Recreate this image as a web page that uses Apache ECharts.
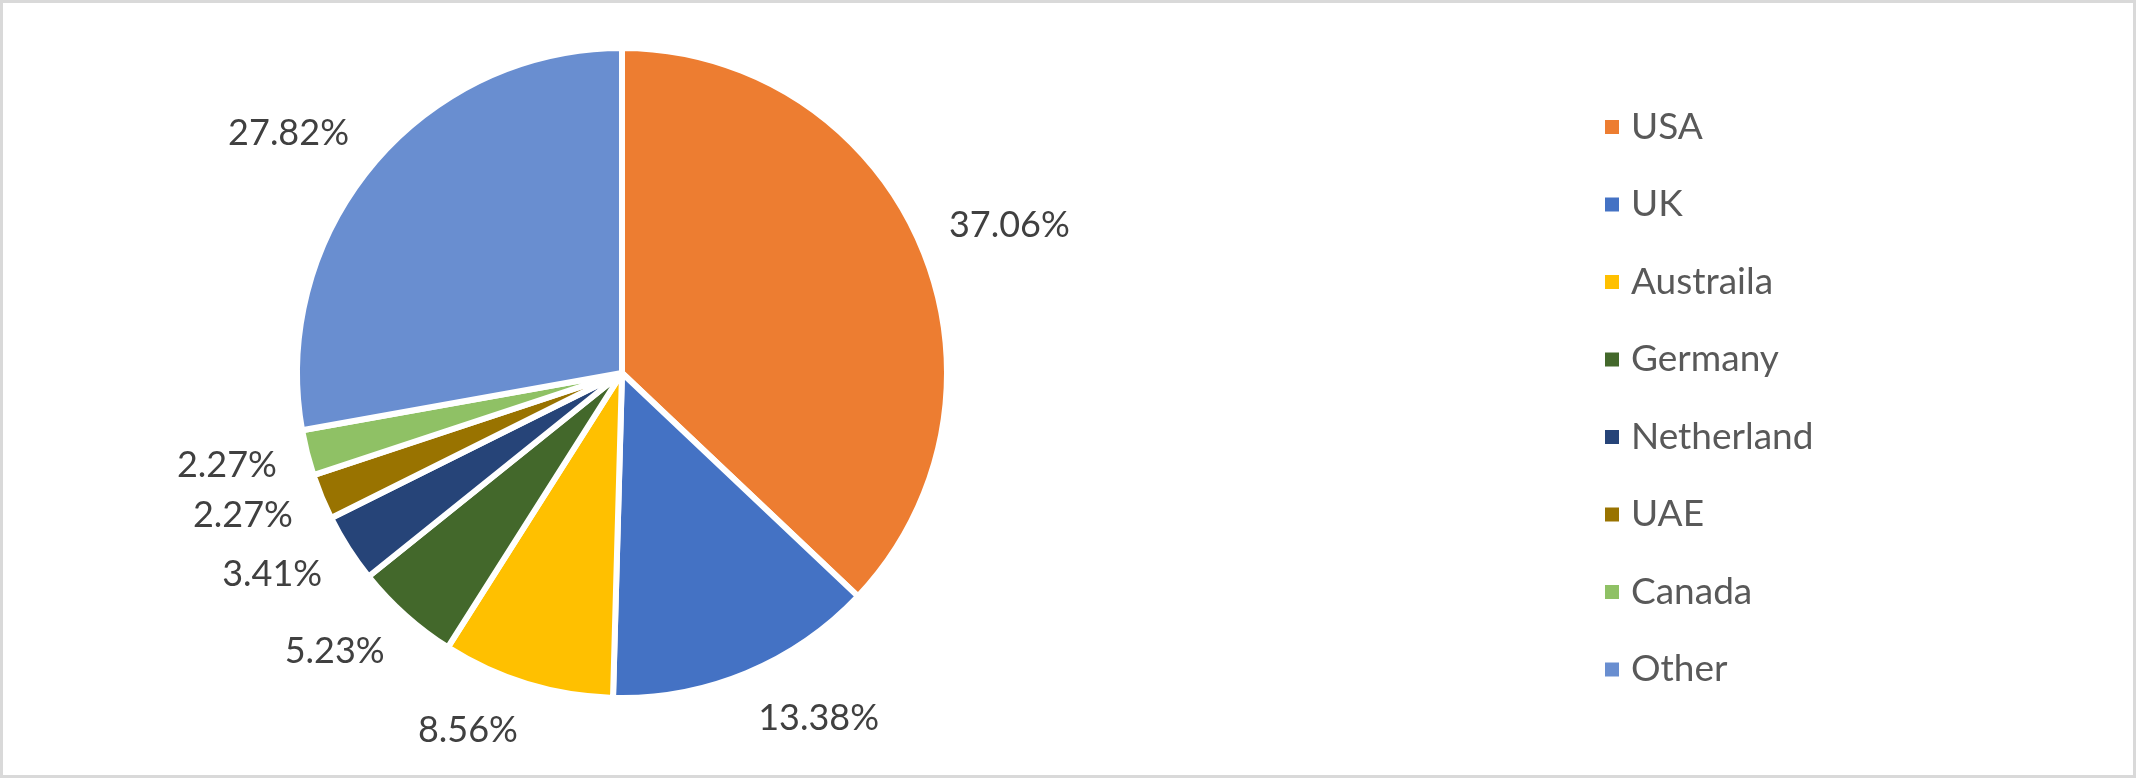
<!DOCTYPE html>
<html>
<head>
<meta charset="utf-8">
<script src="https://cdn.jsdelivr.net/npm/echarts@6/dist/echarts.min.js"></script>
<style>
  html, body { margin: 0; padding: 0; background: #fff; }
  #chart { width: 2136px; height: 778px; }
</style>
</head>
<body>
<div id="chart"></div>
<script>
const categories = ['USA', 'UK', 'Austraila', 'Germany', 'Netherland', 'UAE', 'Canada', 'Other'];
const shares = [37.06, 13.38, 8.56, 5.23, 3.41, 2.27, 2.27, 27.82];
const colors = ['#ED7D31', '#4472C4', '#FFC000', '#43682B', '#264478', '#997300', '#8FC165', '#698ED0'];

const pieData = categories.map((name, i) => ({ name: name, value: shares[i] }));
const FONT = 'Lato, "Noto Sans", sans-serif';

const CENTER = [622, 373];
const LABEL_DIST = 356; // distance from centre to the label anchor point

// mid-angle of each slice (clockwise from 12 o'clock) derived from the data
const total = shares.reduce((a, b) => a + b, 0);
const midAngles = [];
let acc = 0;
shares.forEach(v => { midAngles.push((acc + v / 2) / total * Math.PI * 2); acc += v; });

const chart = echarts.init(document.getElementById('chart'));
chart.setOption({
  animation: false,
  backgroundColor: '#ffffff',
  color: colors,
  graphic: [{
    type: 'rect',
    shape: { x: 1.5, y: 1.5, width: 2133, height: 775 },
    style: { fill: 'none', stroke: '#D9D9D9', lineWidth: 3 },
    silent: true
  }],
  legend: {
    orient: 'vertical',
    left: 1598,
    top: 102,
    icon: 'rect',
    itemWidth: 16,
    itemHeight: 16,
    itemGap: 37.5,
    data: categories,
    textStyle: {
      fontFamily: FONT,
      fontSize: 37,
      color: '#595959',
      lineHeight: 40,
      padding: [0, 0, 0, 6]
    }
  },
  series: [
    {
      type: 'pie',
      center: CENTER,
      radius: [0, 325],
      startAngle: 90,
      clockwise: true,
      data: pieData,
      itemStyle: { borderColor: '#ffffff', borderWidth: 6 },
      label: {
        show: true,
        position: 'outside',
        fontFamily: FONT,
        fontSize: 36,
        color: '#404040',
        formatter: p => p.value.toFixed(2) + '%'
      },
      labelLine: { show: false },
      labelLayout: function (params) {
        const a = midAngles[params.dataIndex];
        const ux = Math.sin(a), uy = -Math.cos(a);
        const hw = params.labelRect.width / 2, hh = params.labelRect.height / 2;
        return {
          x: CENTER[0] + ux * LABEL_DIST + Math.sign(ux) * hw,
          y: CENTER[1] + uy * LABEL_DIST + uy * hh,
          align: 'center',
          verticalAlign: 'middle'
        };
      },
      emphasis: { disabled: true }
    }
  ]
});
</script>
</body>
</html>
